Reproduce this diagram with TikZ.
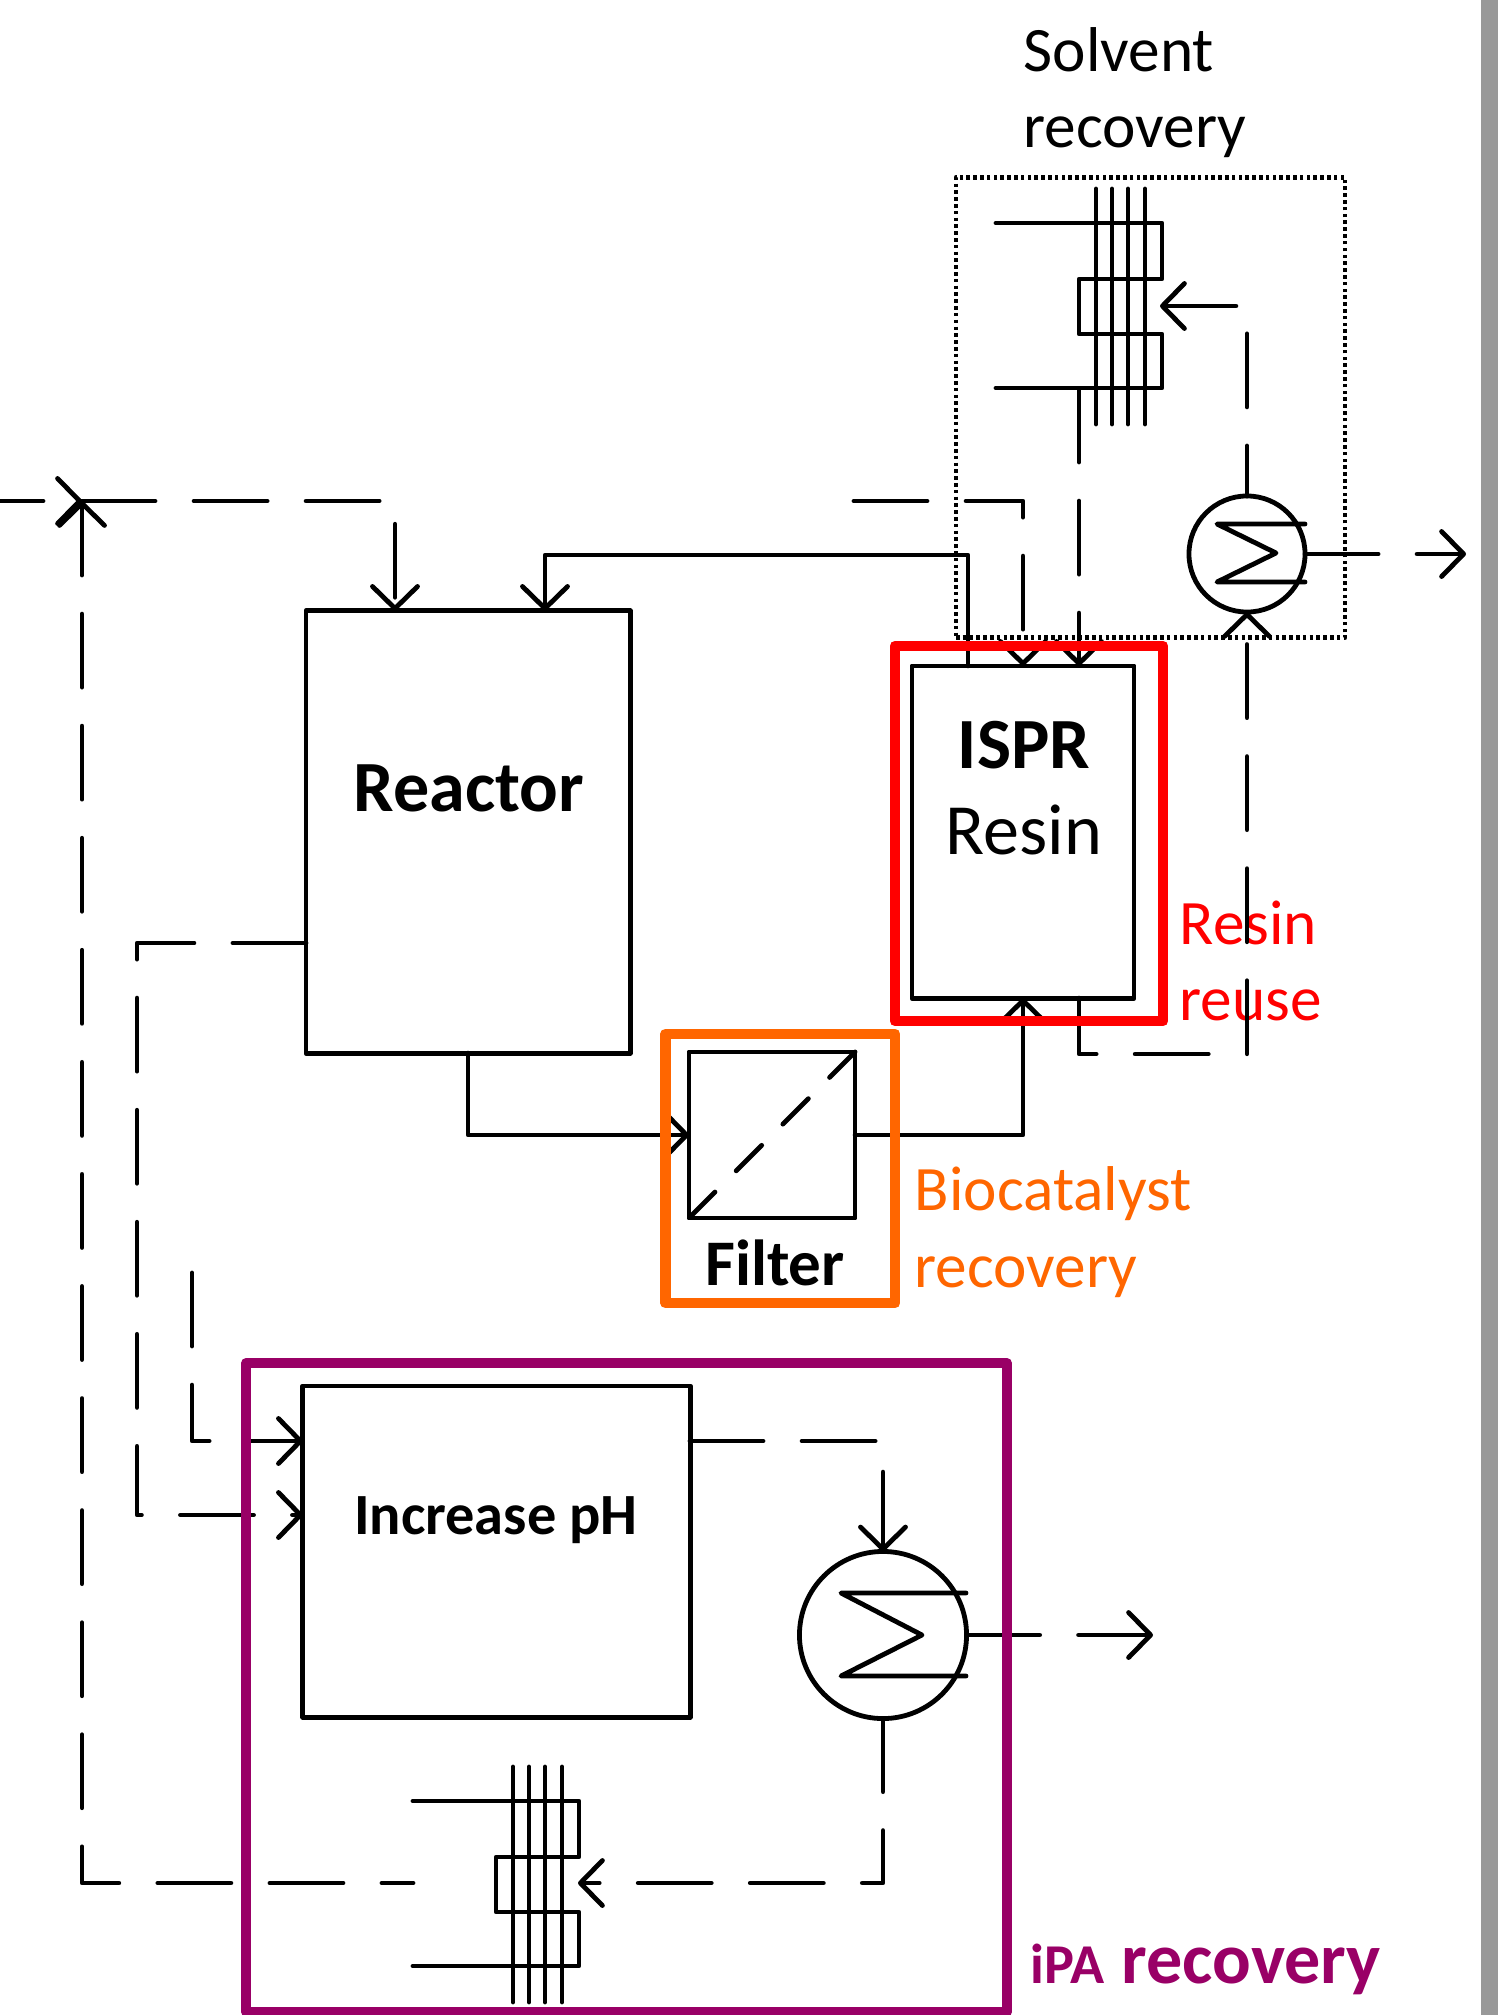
\documentclass[tikz,border=0pt]{standalone}
\usepackage{fontspec}
\setmainfont{Carlito}
\usetikzlibrary{arrows.meta}
\definecolor{ipapurple}{HTML}{990066}
\definecolor{bioorange}{HTML}{FF6600}
\tikzset{
  pipe/.style={line width=.048cm,line cap=round,line join=round},
  flow/.style={pipe,dash pattern=on .73cm off .39cm},
  tip/.style={-{Straight Barb[length=.22cm,width=.45cm,round]}},
  unitbox/.style={draw,line width=.048cm,line join=round,inner sep=0,outer sep=0},
  exchanger/.style={draw,circle,line width=.048cm,inner sep=0,outer sep=0},
  frame/.style={draw,line join=round,inner sep=0,outer sep=0},
  head/.style={inner sep=0,font=\fontsize{20.5}{22}\selectfont\bfseries},
  body/.style={inner sep=0,font=\fontsize{18}{20}\selectfont},
}
\begin{document}
\begin{tikzpicture}[x=.01cm,y=-.01cm]
        \useasboundingbox (0,0) rectangle (1498,2015);
        \fill[black!40] (1481,0) rectangle (1498,2015);
        % lecter
        \node[body,anchor=base west] (solventlbl) at (1023,71) {Solvent};
        \node[body,anchor=base west] (solventlblb) at (1023,147) {recovery};
        \node[body,anchor=base west,red] (reuselbl) at (1179,944) {Resin};
        \node[body,anchor=base west,red] (reuselblb) at (1179,1020) {reuse};
        \node[body,anchor=base west,bioorange] (biolbl) at (914,1210) {Biocatalyst};
        \node[body,anchor=base west,bioorange] (biolblb) at (914,1287) {recovery};
        \node[inner sep=0,anchor=base west,ipapurple,font=\bfseries] (ipalbl) at (1030,1983) {{\fontsize{16}{18}\selectfont iPA}\hspace{.09cm} {\fontsize{20.5}{22}\selectfont recovery}};
        % units
        \node[unitbox,minimum width=3.24cm,minimum height=4.42cm] (reactor) at (468,832) {};
        \node[unitbox,minimum width=2.22cm,minimum height=3.32cm] (ispr) at (1023,832) {};
        \node[unitbox,minimum width=1.66cm,minimum height=1.66cm] (filterbox) at (772,1135) {};
        \node[unitbox,minimum width=3.87cm,minimum height=3.31cm] (phbox) at (496.5,1551.5) {};
        \node[exchanger,minimum size=1.16cm] (solventex) at (1247,554) {};
        \node[exchanger,minimum size=1.67cm] (ipaex) at (883,1635) {};
        \node[head,anchor=base] (reactorlbl) at (469,811) {Reactor};
        \node[head,anchor=base] (isprlbl) at (1024,768) {ISPR};
        \node[inner sep=0,font=\fontsize{20.5}{22}\selectfont,anchor=base] (resinlbl) at (1024,854) {Resin};
        \node[inner sep=0,anchor=base,font=\fontsize{18.5}{20}\selectfont\bfseries] (filterlbl) at (775,1285) {Filter};
        \node[inner sep=0,anchor=base,font=\fontsize{16.6}{19}\selectfont\bfseries] (phlbl) at (496,1534) {Increase pH};
        % coordinates
        \coordinate (feedleft) at (0,501);\coordinate (mixer) at (82,501);\coordinate (feedcorner) at (395,501);
        \coordinate (recycleb) at (545,555);\coordinate (recyclea) at (968,555);
        \coordinate (topin) at (854,501);\coordinate (topcorner) at (1023,501);
        \coordinate (solventout) at (1079,389);\coordinate (solventcorner) at (1247,306);\coordinate (solventtip) at (1160,306);
        \coordinate (solventend) at (1466,554);
        \coordinate (reusea) at (1079,1054);\coordinate (reuseb) at (1247,1054);
        \coordinate (reactorout) at (306,943);\coordinate (lefta) at (137,943);\coordinate (leftb) at (137,1515);
        \coordinate (baseout) at (192,1273);\coordinate (baseb) at (192,1441);
        \coordinate (phout) at (690,1441);\coordinate (phcorner) at (883,1441);
        \coordinate (ipaend) at (1153,1635);
        \coordinate (coolcorner) at (883,1883);\coordinate (cooltip) at (578,1883);
        \coordinate (backstart) at (413,1883);\coordinate (backcorner) at (82,1883);
        % line
        \draw [pipe,tip] (reactor.south) |- (filterbox.west);
        \draw [pipe,tip] (filterbox.east) -| (ispr.south);
        \draw [pipe,tip] (ispr.north -| recyclea) -- (recyclea) -- (recycleb) -- (reactor.north -| recycleb);
        \draw [flow,tip,dash phase=.3cm] (feedleft) -- (mixer);
        \draw [flow,tip] (mixer) -- (feedcorner) -- (reactor.north -| feedcorner);
        \draw [flow,tip,dash phase=.42cm] (backstart) -- (backcorner) -- (mixer);
        \draw [flow,tip] (topin) -- (topcorner) -- (ispr.north);
        \draw [flow,tip] (solventout) -- (ispr.north -| solventout);
        \draw [flow,tip,dash phase=.23cm] (solventex.north) -- (solventcorner) -- (solventtip);
        \draw [flow,tip] (solventex.east) -- (solventend);
        \draw [flow,tip] (ispr.south -| reusea) -- (reusea) -- (reuseb) -- (solventex.south);
        \draw [flow,tip] (reactorout) -- (lefta) -- (leftb) -- (phbox.west |- leftb);
        \draw [flow,tip] (baseout) -- (baseb) -- (phbox.west |- baseb);
        \draw [flow,tip] (phout) -- (phcorner) -- (ipaex.north);
        \draw [flow,tip] (ipaex.east) -- (ipaend);
        \draw [flow,tip] (ipaex.south) -- (coolcorner) -- (cooltip);
        \draw [pipe,dash pattern=on .36cm off .3cm] (filterbox.north east) -- (filterbox.south west);
        % heat exchangers
        \draw [pipe] (1305,524) -- (1217,524) -- (1276,553) -- (1217,582) -- (1305,582);
        \draw [pipe] (966,1593) -- (841,1593) -- (922,1635) -- (841,1676) -- (966,1676);
        % columns
        \foreach \cx/\cy in {996/223,413/1801}{
          \draw [pipe] (\cx,\cy) -- (\cx+166,\cy) -- (\cx+166,\cy+56) -- (\cx+83,\cy+56) -- (\cx+83,\cy+111) -- (\cx+166,\cy+111) -- (\cx+166,\cy+165) -- (\cx,\cy+165);
          \foreach \bar in {100,116,132,149}{\draw [pipe] (\cx+\bar,\cy-34) -- (\cx+\bar,\cy+201);}
        }
        % frames
        \node[frame,line width=.045cm,black,dash pattern=on .036cm off .032cm,minimum width=3.89cm,minimum height=4.6cm] (solventframe) at (1150.5,407.5) {};
        \node[frame,line width=.105cm,red,minimum width=2.68cm,minimum height=3.75cm] (resinframe) at (1029,833.5) {};
        \node[frame,line width=.105cm,bioorange,minimum width=2.295cm,minimum height=2.69cm] (bioframe) at (780.25,1168.5) {};
        \node[frame,line width=.1cm,ipapurple,minimum width=7.6cm,minimum height=6.49cm] (ipaframe) at (626.5,1687.5) {};
\end{tikzpicture}
\end{document}
